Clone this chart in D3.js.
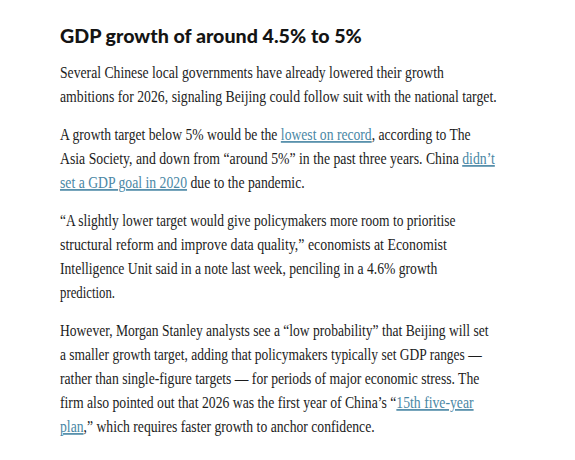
<!DOCTYPE html>
<html>
<head>
<meta charset="utf-8">
<script src="https://cdn.jsdelivr.net/npm/d3@7"></script>
<style>
  html, body { margin: 0; padding: 0; background: #ffffff; }
  svg { display: block; }
</style>
</head>
<body>
<div id="chart"></div>
<script>
// Heading text
const heading = "GDP growth of around 4.5% to 5%";

// Paragraph lines: each line is a list of [text, isLink] segments
const paragraph1 = [
  [["Several Chinese local governments have already lowered their growth", false]],
  [["ambitions for 2026, signaling Beijing could follow suit with the national target.", false]]
];
const paragraph2 = [
  [["A growth target below 5% would be the ", false], ["lowest on record", true], [", according to The", false]],
  [["Asia Society, and down from \u201Caround 5%\u201D in the past three years. China ", false], ["didn\u2019t", true]],
  [["set a GDP goal in 2020", true], [" due to the pandemic.", false]]
];
const paragraph3 = [
  [["\u201CA slightly lower target would give policymakers more room to prioritise", false]],
  [["structural reform and improve data quality,\u201D economists at Economist", false]],
  [["Intelligence Unit said in a note last week, penciling in a 4.6% growth", false]],
  [["prediction.", false]]
];
const paragraph4 = [
  [["However, Morgan Stanley analysts see a \u201Clow probability\u201D that Beijing will set", false]],
  [["a smaller growth target, adding that policymakers typically set GDP ranges \u2014", false]],
  [["rather than single-figure targets \u2014 for periods of major economic stress. The", false]],
  [["firm also pointed out that 2026 was the first year of China\u2019s \u201C", false], ["15th five-year", true]],
  [["plan", true], [",\u201D which requires faster growth to anchor confidence.", false]]
];
// Visible line widths (px)
const lineWidths = [
  [384, 437],
  [411, 435, 245],
  [396, 387, 378, 55],
  [429, 422, 420, 414, 315]
];

const W = 575, H = 460;
const left = 60;
const paragraphs = [paragraph1, paragraph2, paragraph3, paragraph4];

const svg = d3.select("#chart").append("svg")
  .attr("width", W).attr("height", H)
  .style("background", "#ffffff");

// Scale a text horizontally so its width matches a target
function fitWidth(sel, x, y, target) {
  const natural = sel.node().getComputedTextLength();
  const k = natural > 0 ? target / natural : 1;
  sel.attr("x", 0).attr("y", 0)
    .attr("transform", `translate(${x},${y}) scale(${k},1)`);
}

// Heading
const h = svg.append("text")
  .attr("font-family", "Lato, 'Open Sans', sans-serif")
  .attr("font-weight", 900)
  .attr("font-size", 18)
  .attr("fill", "#141414")
  .text(heading);
fitWidth(h, left, 42.5, 302);

// Body layout
const lineHeight = 24;
const paraGap = 14;
let y = 78;
paragraphs.forEach((para, pi) => {
  para.forEach((line, li) => {
    const t = svg.append("text")
      .attr("font-family", "'Liberation Serif', 'Times New Roman', serif")
      .attr("font-size", 16.5)
      .attr("fill", "#1c1c1c");
    t.selectAll("tspan").data(line).join("tspan")
      .attr("fill", d => d[1] ? "#4a87a5" : "#1c1c1c")
      .style("text-decoration", d => d[1] ? "underline" : "none")
      .text(d => d[0]);
    fitWidth(t, left, y, lineWidths[pi][li]);
    y += lineHeight;
  });
  y += paraGap;
});
</script>
</body>
</html>
